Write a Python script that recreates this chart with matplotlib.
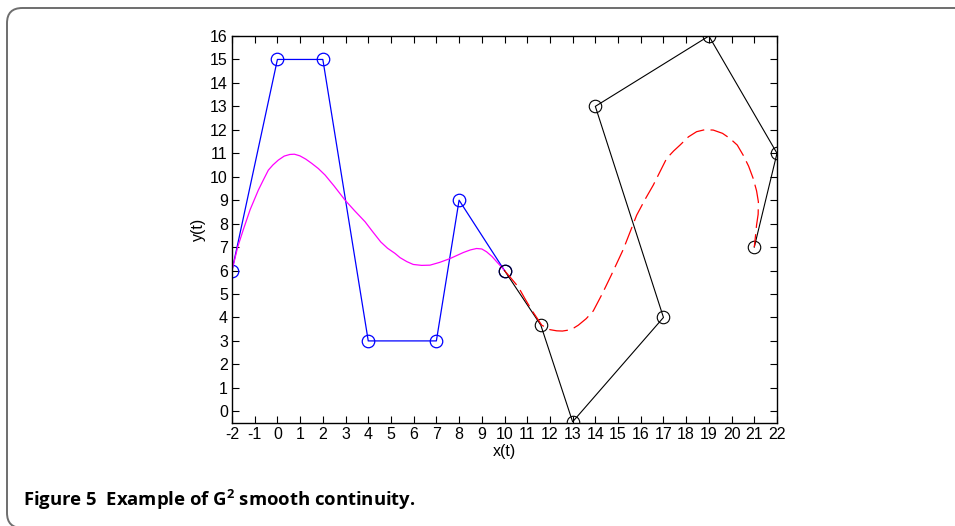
import matplotlib
matplotlib.use("Agg")
import matplotlib.pyplot as plt
from matplotlib.patches import FancyBboxPatch

plt.rcParams["font.family"] = ["Liberation Sans", "DejaVu Sans"]
plt.rcParams["axes.unicode_minus"] = False
plt.rcParams["mathtext.fontset"] = "custom"
plt.rcParams["mathtext.bf"] = "Open Sans:bold"
plt.rcParams["mathtext.rm"] = "Open Sans"

# first segment: control polygon and its curve
ctrl1_x = [-2, 0, 2, 4, 7, 8, 10]
ctrl1_y = [6, 15, 15, 3, 3, 9, 6]

curve1_x = [-2, -1.75, -1.5, -1.2, -0.84, -0.6, -0.4, -0.2, 0.04, 0.3, 0.55,
            0.75, 0.99, 1.25, 1.51, 1.8, 2.1, 2.5, 2.98, 3.4, 3.86, 4.2, 4.55,
            4.85, 5.18, 5.4, 5.7, 5.98, 6.35, 6.72, 7.15, 7.6, 8.19, 8.5,
            8.77, 9.0, 9.21, 9.45, 9.66, 9.85, 10]
curve1_y = [6, 7.0, 7.75, 8.6, 9.43, 9.9, 10.28, 10.5, 10.71, 10.88, 10.95,
            10.96, 10.89, 10.75, 10.57, 10.35, 10.07, 9.6, 9.0, 8.55, 8.08,
            7.65, 7.22, 6.95, 6.73, 6.55, 6.38, 6.26, 6.22, 6.23, 6.35, 6.51,
            6.77, 6.88, 6.94, 6.92, 6.80, 6.6, 6.37, 6.17, 6]

# second segment
ctrl2_x = [10, 11.6, 13, 17, 14, 19, 22, 21]
ctrl2_y = [6, 3.67, -0.45, 4, 13, 16, 11, 7]

curve2_x = [10, 10.3, 10.61, 10.9, 11.2, 11.45, 11.64, 12.0, 12.3, 12.55,
            12.81, 13.05, 13.25, 13.6, 13.91, 14.3, 14.7, 15.23, 15.82, 16.2,
            16.55, 17.14, 17.45, 17.73, 18.1, 18.46, 18.8, 19.19, 19.6,
            19.93, 20.25, 20.51, 20.75, 20.95, 21.1, 21.18, 21.17, 21.10,
            21.05, 21.0]
curve2_y = [6, 5.66, 5.30, 4.8, 4.31, 3.95, 3.67, 3.48, 3.43, 3.42,
            3.46, 3.55, 3.67, 3.95, 4.28, 5.0, 5.8, 6.9, 8.36, 9.05,
            9.64, 10.78, 11.1, 11.35, 11.7, 11.92, 12.0, 11.99, 11.85,
            11.63, 11.35, 10.92, 10.45, 9.93, 9.4, 8.93, 8.4, 7.94,
            7.45, 7.0]

x_ticks = list(range(-2, 23))
y_ticks = list(range(0, 17))

fig = plt.figure(figsize=(9.55, 5.26), dpi=100)

# rounded frame, running off the right and bottom edges
frame = FancyBboxPatch((7 / 955, 1 - 528 / 526), 1000 / 955, 520 / 526,
                       boxstyle="round,pad=0,rounding_size=0.016",
                       transform=fig.transFigure, fill=False,
                       edgecolor="#6e6e6e", linewidth=1.4, mutation_aspect=1.8)
fig.add_artist(frame)

ax = fig.add_axes([232 / 955, 1 - 423 / 526, 545 / 955, 387 / 526])

ax.plot(ctrl1_x, ctrl1_y, color="#0000ff", lw=0.9, marker="o", ms=9,
        mfc="none", mec="#0000ff", mew=0.9)
ax.plot(curve1_x, curve1_y, color="#ff00ff", lw=0.9)
ax.plot(ctrl2_x, ctrl2_y, color="black", lw=0.8, marker="o", ms=9,
        mfc="none", mec="black", mew=0.8)
ax.plot(curve2_x, curve2_y, color="#ff0000", lw=0.9, dashes=(15, 5))

ax.set_xlim(-2, 22)
ax.set_ylim(-0.5, 16)
ax.set_xticks(x_ticks)
ax.set_yticks(y_ticks)
ax.tick_params(direction="in", length=5, width=0.8, top=True, right=True,
               labelsize=11.5, pad=3)
for s in ax.spines.values():
    s.set_linewidth(1.0)

ax.set_xlabel("x(t)", fontsize=11.5, labelpad=1)
ax.set_ylabel("y(t)", fontsize=11.5, labelpad=3)

fig.text(23 / 955, 1 - 500 / 526,
         r"Figure 5  Example of $\mathbf{G}^{\mathbf{2}}$ smooth continuity.",
         family="Open Sans", fontweight="bold", fontsize=13.3, va="center",
         ha="left")

fig.savefig("out.png", dpi=100)
